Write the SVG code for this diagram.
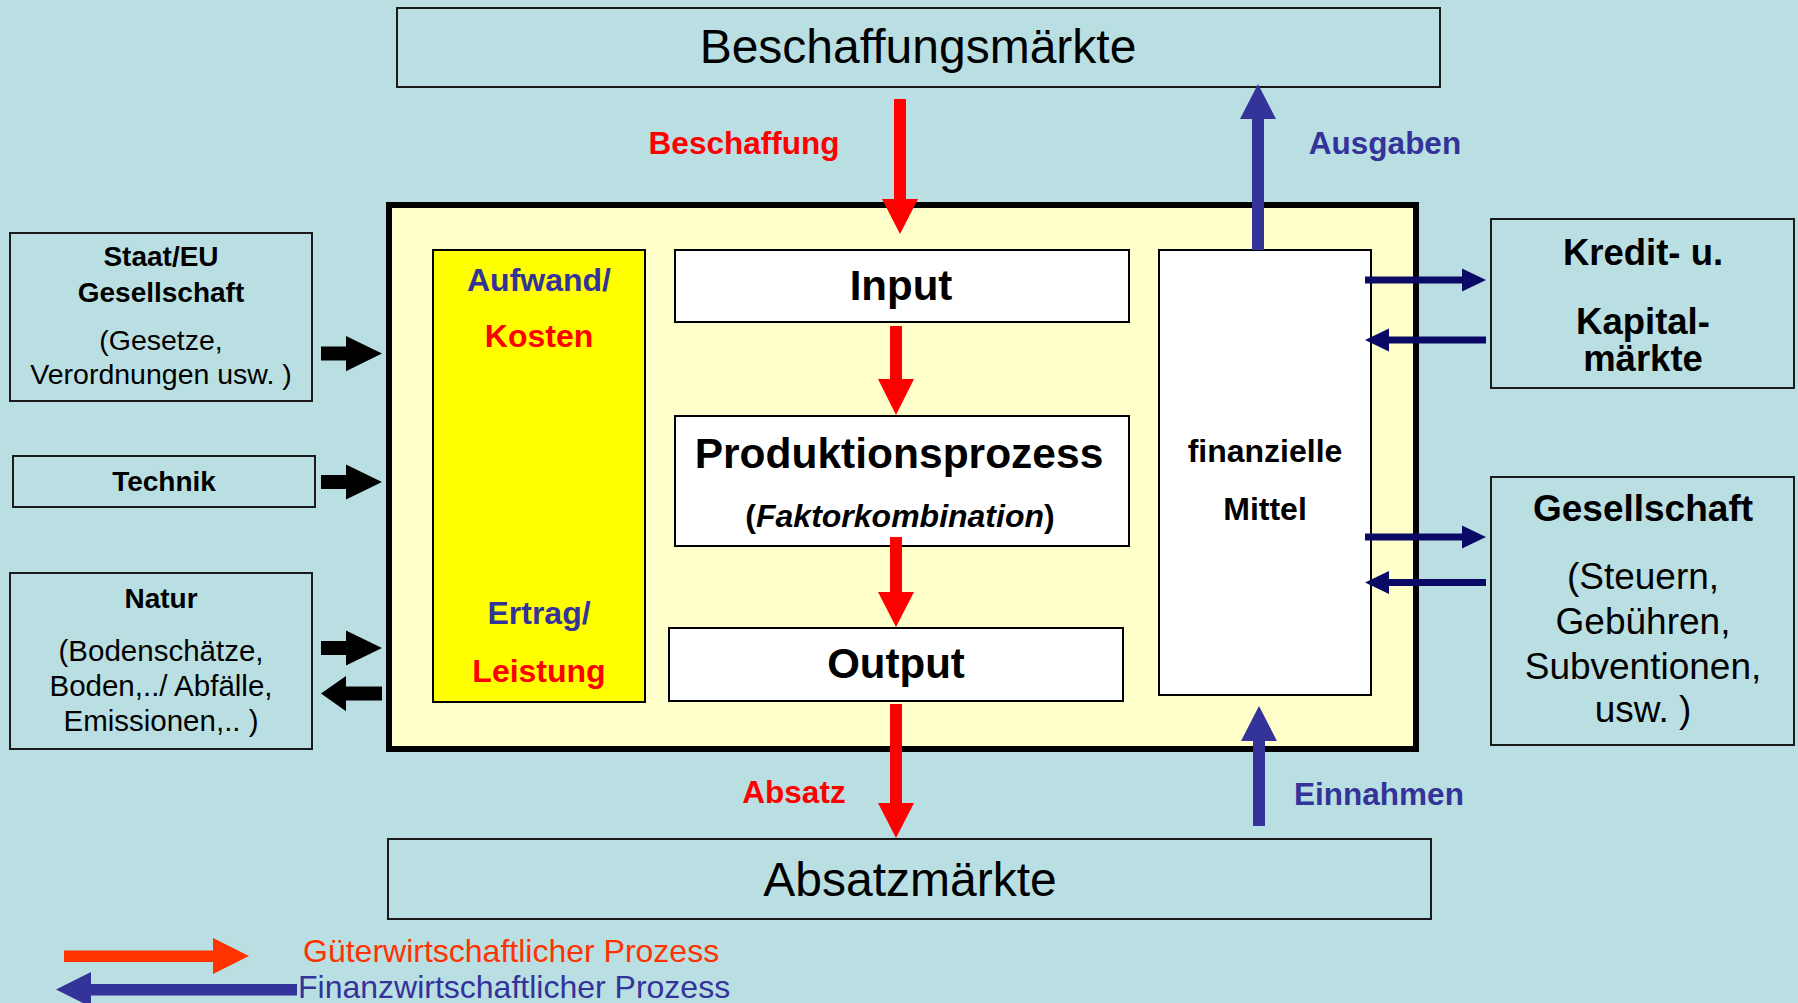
<svg xmlns="http://www.w3.org/2000/svg" width="1798" height="1003" viewBox="0 0 1798 1003">
  <style>
    text { font-family: "Liberation Sans", Arial, sans-serif; }
    .b { font-weight: bold; }
    .mid { text-anchor: middle; }
    .side { fill: none; stroke: #1a1a1a; stroke-width: 2; }
    .inner { fill: #ffffff; stroke: #000000; stroke-width: 2; }
    .red { fill: #ff0000; }
    .blue { fill: #333399; }
    .navy { fill: #0a0a66; }
    .blk { fill: #000000; }
  </style>

  <!-- background -->
  <rect x="0" y="0" width="1798" height="1003" fill="#badfe3"/>

  <!-- markets -->
  <g id="beschaffungsmaerkte">
    <rect class="side" x="397" y="8" width="1043" height="79"/>
    <text class="mid" x="918" y="63" font-size="48">Beschaffungsmärkte</text>
  </g>
  <g id="absatzmaerkte">
    <rect class="side" x="388" y="839" width="1043" height="80"/>
    <text class="mid" x="910" y="896" font-size="48">Absatzmärkte</text>
  </g>

  <!-- enterprise -->
  <g id="unternehmen">
    <rect x="389" y="205" width="1027" height="544" fill="#ffffcc" stroke="#000000" stroke-width="6"/>
  </g>
  <g id="aufwand-ertrag">
    <rect x="433" y="250" width="212" height="452" fill="#ffff00" stroke="#000000" stroke-width="2"/>
    <text class="b mid blue" x="539" y="291" font-size="32">Aufwand/</text>
    <text class="b mid red" x="539" y="347" font-size="32">Kosten</text>
    <text class="b mid blue" x="539" y="624" font-size="32">Ertrag/</text>
    <text class="b mid red" x="539" y="682" font-size="32">Leistung</text>
  </g>
  <g id="input">
    <rect class="inner" x="675" y="250" width="454" height="72"/>
    <text class="b mid" x="901" y="300" font-size="42">Input</text>
  </g>
  <g id="produktionsprozess">
    <rect class="inner" x="675" y="416" width="454" height="130"/>
    <text class="b mid" x="899" y="468" font-size="42.5">Produktionsprozess</text>
    <text class="b mid" x="900" y="527" font-size="32">(<tspan font-style="italic">Faktorkombination</tspan>)</text>
  </g>
  <g id="output">
    <rect class="inner" x="669" y="628" width="454" height="73"/>
    <text class="b mid" x="896" y="678" font-size="42">Output</text>
  </g>
  <g id="finanzielle-mittel">
    <rect class="inner" x="1159" y="250" width="212" height="445"/>
    <text class="b mid" x="1265" y="462" font-size="32">finanzielle</text>
    <text class="b mid" x="1265" y="520" font-size="32">Mittel</text>
  </g>

  <!-- environment, left -->
  <g id="staat">
    <rect class="side" x="10" y="233" width="302" height="168"/>
    <text class="b mid" x="161" y="266" font-size="28">Staat/EU</text>
    <text class="b mid" x="161" y="302" font-size="28">Gesellschaft</text>
    <text class="mid" x="161" y="350" font-size="28.5">(Gesetze,</text>
    <text class="mid" x="161" y="384" font-size="28.5">Verordnungen usw. )</text>
  </g>
  <g id="technik">
    <rect class="side" x="13" y="456" width="302" height="51"/>
    <text class="b mid" x="164" y="491" font-size="28">Technik</text>
  </g>
  <g id="natur">
    <rect class="side" x="10" y="573" width="302" height="176"/>
    <text class="b mid" x="161" y="608" font-size="28">Natur</text>
    <text class="mid" x="161" y="661" font-size="29.5">(Bodenschätze,</text>
    <text class="mid" x="161" y="696" font-size="29.5">Boden,../ Abfälle,</text>
    <text class="mid" x="161" y="731" font-size="29.5">Emissionen,.. )</text>
  </g>

  <!-- environment, right -->
  <g id="kapitalmaerkte">
    <rect class="side" x="1491" y="219" width="303" height="169"/>
    <text class="b mid" x="1643" y="265" font-size="36.5">Kredit- u.</text>
    <text class="b mid" x="1643" y="334" font-size="36.5">Kapital-</text>
    <text class="b mid" x="1643" y="371" font-size="36.5">märkte</text>
  </g>
  <g id="gesellschaft">
    <rect class="side" x="1491" y="477" width="303" height="268"/>
    <text class="b mid" x="1643" y="521" font-size="37">Gesellschaft</text>
    <text class="mid" x="1643" y="589" font-size="37">(Steuern,</text>
    <text class="mid" x="1643" y="634" font-size="37">Gebühren,</text>
    <text class="mid" x="1643" y="679" font-size="37">Subventionen,</text>
    <text class="mid" x="1643" y="722" font-size="37">usw. )</text>
  </g>

  <!-- connectors -->
  <g id="connectors">
    <!-- goods flow -->
    <polygon class="red" points="894,99 906,99 906,199 918,199 900,234 882,199 894,199"/>
    <polygon class="red" points="890,326 902,326 902,379 914,379 896,415 878,379 890,379"/>
    <polygon class="red" points="890,537 902,537 902,592 914,592 896,627 878,592 890,592"/>
    <polygon class="red" points="890,704 902,704 902,803 914,803 896,838 878,803 890,803"/>
    <text class="b mid red" x="744" y="154" font-size="31.5">Beschaffung</text>
    <text class="b mid red" x="794" y="803" font-size="31.5">Absatz</text>

    <!-- money flow -->
    <polygon class="blue" points="1252,250 1264,250 1264,119 1276,119 1258,84 1240,119 1252,119"/>
    <polygon class="blue" points="1253,826 1265,826 1265,741 1277,741 1259,706 1241,741 1253,741"/>
    <text class="b mid blue" x="1385" y="154" font-size="31.5">Ausgaben</text>
    <text class="b mid blue" x="1379" y="805" font-size="31.5">Einnahmen</text>

    <!-- capital and society -->
    <polygon class="navy" points="1365,276.5 1462,276.5 1462,268.5 1486,280 1462,291.5 1462,283.5 1365,283.5"/>
    <polygon class="navy" points="1486,336.5 1389,336.5 1389,328.5 1365,340 1389,351.5 1389,343.5 1486,343.5"/>
    <polygon class="navy" points="1365,533.5 1462,533.5 1462,525.5 1486,537 1462,548.5 1462,540.5 1365,540.5"/>
    <polygon class="navy" points="1486,579 1389,579 1389,571 1365,582.5 1389,594 1389,586 1486,586"/>

    <!-- environment influences -->
    <polygon class="blk" points="321,346.6 346,346.6 346,336 382,353.6 346,371.2 346,360.6 321,360.6"/>
    <polygon class="blk" points="321,475 346,475 346,464.5 382,482 346,499.5 346,489 321,489"/>
    <polygon class="blk" points="321,641 346,641 346,630.5 382,648 346,665.5 346,655 321,655"/>
    <polygon class="blk" points="382,686.6 346,686.6 346,676 321,693.6 346,711.2 346,700.6 382,700.6"/>
  </g>

  <!-- legend -->
  <g id="legende">
    <polygon fill="#ff3300" points="64,950.5 213,950.5 213,938 249,956 213,974 213,962 64,962"/>
    <text x="303" y="962" font-size="32" fill="#ff3300">Güterwirtschaftlicher Prozess</text>
    <polygon class="blue" points="297,984 91,984 91,972 56,989.5 91,1007 91,995.5 297,995.5"/>
    <text x="298" y="998" font-size="32" fill="#333399">Finanzwirtschaftlicher Prozess</text>
  </g>
</svg>
